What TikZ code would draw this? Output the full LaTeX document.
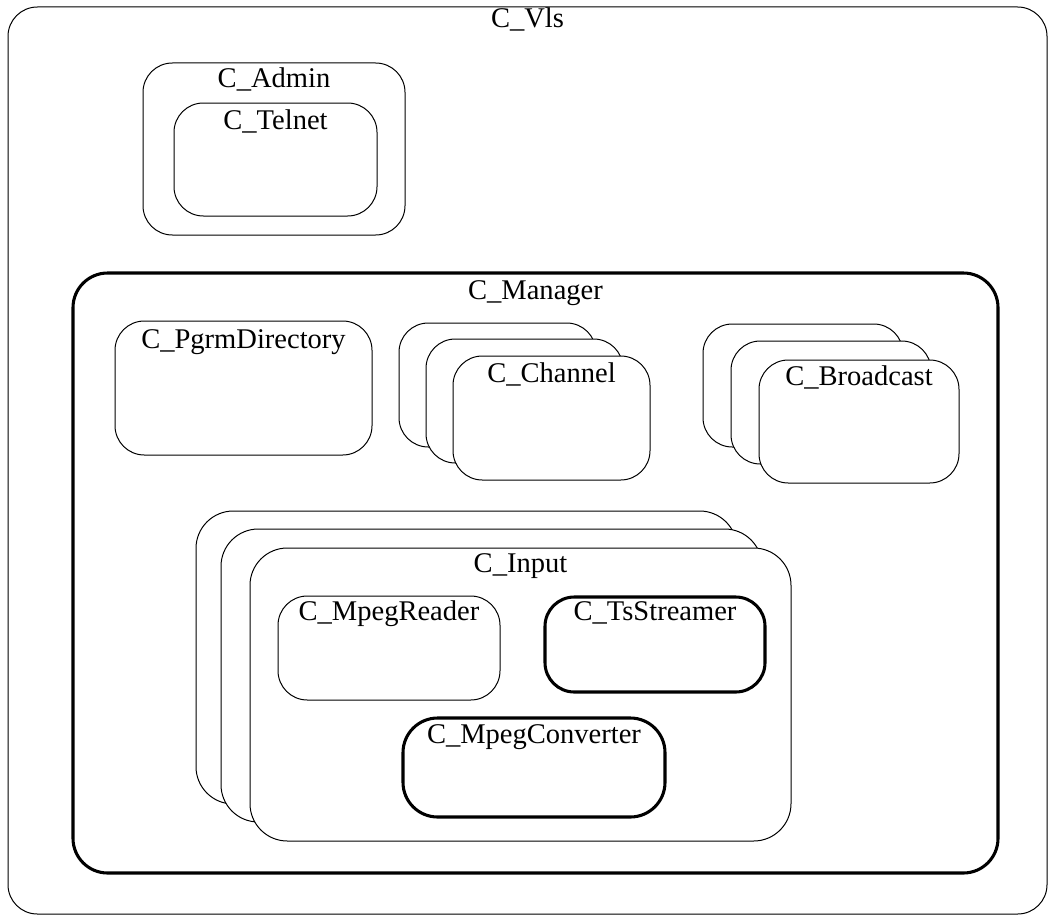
\documentclass[tikz,border=0pt]{standalone}
\usepackage{fontspec}
\setmainfont{Liberation Serif}
\usetikzlibrary{fit}
\tikzset{
  box/.style={draw=black, line width=0.75pt, fill=white, rounded corners=22pt, inner sep=0pt},
  thickbox/.style={box, line width=2.3pt},
  lbl/.style={anchor=base, inner sep=0pt, font=\fontsize{21.4}{24}\selectfont},
}
\begin{document}
\begin{tikzpicture}[x=0.75pt, y=-0.75pt]
\useasboundingbox (0,0) rectangle (1052,917);

% outer component
\node (vls) [box, fit={(8,7) (1047,914)}] {};
\node[lbl] at ([yshift=-16pt]vls.north) {C\_Vls};

% administration
\node (admin) [box, fit={(143,63) (405,235)}] {};
\node[lbl] at ([yshift=-19pt]admin.north) {C\_Admin};
\node (telnet) [box, fit={(174,103) (377,216)}] {};
\node[lbl] at ([yshift=-20pt]telnet.north) {C\_Telnet};

% manager
\node (manager) [thickbox, rounded corners=26pt, fit={(73,273) (998,873)}] {};
\node[lbl] at ([yshift=-21pt]manager.north) {C\_Manager};

\node (pgrm) [box, fit={(115,321) (372,455)}] {};
\node[lbl] at ([yshift=-21pt]pgrm.north) {C\_PgrmDirectory};

% channels (stacked)
\node (chan1) [box, fit={(399,323) (596,447)}] {};
\node (chan2) [box, fit={(426,339) (623,463)}] {};
\node (chan3) [box, fit={(453,356) (650,480)}] {};
\node[lbl] at ([yshift=-20pt]chan3.north) {C\_Channel};

% broadcasts (stacked)
\node (bc1) [box, fit={(703,324) (903,447)}] {};
\node (bc2) [box, fit={(731,341) (931,464)}] {};
\node (bc3) [box, fit={(759,360) (959,483)}] {};
\node[lbl] at ([yshift=-19.5pt]bc3.north) {C\_Broadcast};

% inputs (stacked)
\node (in1) [box, rounded corners=28pt, fit={(196,511) (737,804)}] {};
\node (in2) [box, rounded corners=28pt, fit={(221,529) (762,822)}] {};
\node (in3) [box, rounded corners=28pt, fit={(250,548) (791,841)}] {};
\node[lbl] at ([yshift=-19pt]in3.north) {C\_Input};

\node (reader) [box, fit={(278,596) (500,700)}] {};
\node[lbl] at ([yshift=-19pt]reader.north) {C\_MpegReader};

\node (ts) [thickbox, fit={(545,597) (765,692)}] {};
\node[lbl] at ([yshift=-19pt]ts.north) {C\_TsStreamer};

\node (conv) [thickbox, rounded corners=26pt, fit={(403,718) (665,817)}] {};
\node[lbl] at ([yshift=-20pt]conv.north) {C\_MpegConverter};
\end{tikzpicture}
\end{document}
